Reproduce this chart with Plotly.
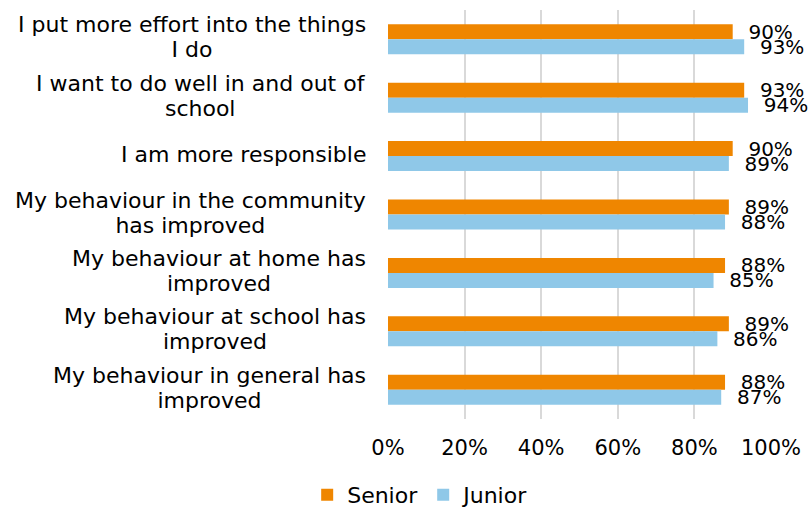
import plotly.graph_objects as go

# Survey statements, top to bottom
statements = [
    "I put more effort into the things<br>I do",
    "I want to do well in and out of<br>school",
    "I am more responsible",
    "My behaviour in the community<br>has improved",
    "My behaviour at home has<br>improved",
    "My behaviour at school has<br>improved",
    "My behaviour in general has<br>improved",
]
senior = [90, 93, 90, 89, 88, 89, 88]
junior = [93, 94, 89, 88, 85, 86, 87]
x_ticks = [0, 20, 40, 60, 80, 100]
x_tick_labels = ["0%", "20%", "40%", "60%", "80%", "100%"]

ORANGE = "#EF8600"
BLUE = "#8FC8E8"
FONT = "DejaVu Sans"
pad = "\u00a0\u00a0"

fig = go.Figure()
for name, vals, color in [("Senior", senior, ORANGE), ("Junior", junior, BLUE)]:
    fig.add_trace(go.Bar(
        name=name,
        y=statements,
        x=vals,
        orientation="h",
        marker=dict(color=color, line=dict(width=0)),
        text=[f"{pad}{v}%" for v in vals],
        textposition="outside",
        constraintext="none",
        cliponaxis=False,
        textfont=dict(family=FONT, size=20, color="#000000"),
    ))

# Category labels, centred line by line and right-aligned against the axis.
# The base size sets the line pitch; the span sets the glyph size.
for s in statements:
    lines = s.split("<br>")
    txt = "<br>".join(f"<span style='font-size:22px'>{ln}</span>" for ln in lines)
    fig.add_annotation(
        xref="paper", yref="y", x=0, y=s,
        xanchor="right", yanchor="middle", xshift=-20, yshift=2,
        text=txt, align="center", showarrow=False,
        font=dict(family=FONT, size=19.3, color="#000000"),
    )

fig.update_layout(
    width=809, height=510,
    margin=dict(l=388, r=38, t=10, b=91, autoexpand=False),
    paper_bgcolor="white", plot_bgcolor="white",
    barmode="group", bargap=0.487, bargroupgap=0,
    font=dict(family=FONT, size=20, color="#000000"),
    showlegend=True,
    legend=dict(
        orientation="h", xref="container", x=0.52, xanchor="center",
        yref="paper", y=-0.186, yanchor="middle",
        font=dict(family=FONT, size=22, color="#000000"),
        itemwidth=30, traceorder="normal",
    ),
    xaxis=dict(
        range=[0, 100], tickvals=x_ticks, ticktext=x_tick_labels,
        showgrid=True, gridcolor="#D9D9D9", gridwidth=2,
        zeroline=False, showline=False, ticks="",
        ticklabelstandoff=14,
        tickfont=dict(family=FONT, size=21, color="#000000"),
        fixedrange=True,
    ),
    yaxis=dict(
        autorange="reversed", showticklabels=False, showgrid=False,
        zeroline=False, showline=False, ticks="",
    ),
)

fig.write_html("out.html")
